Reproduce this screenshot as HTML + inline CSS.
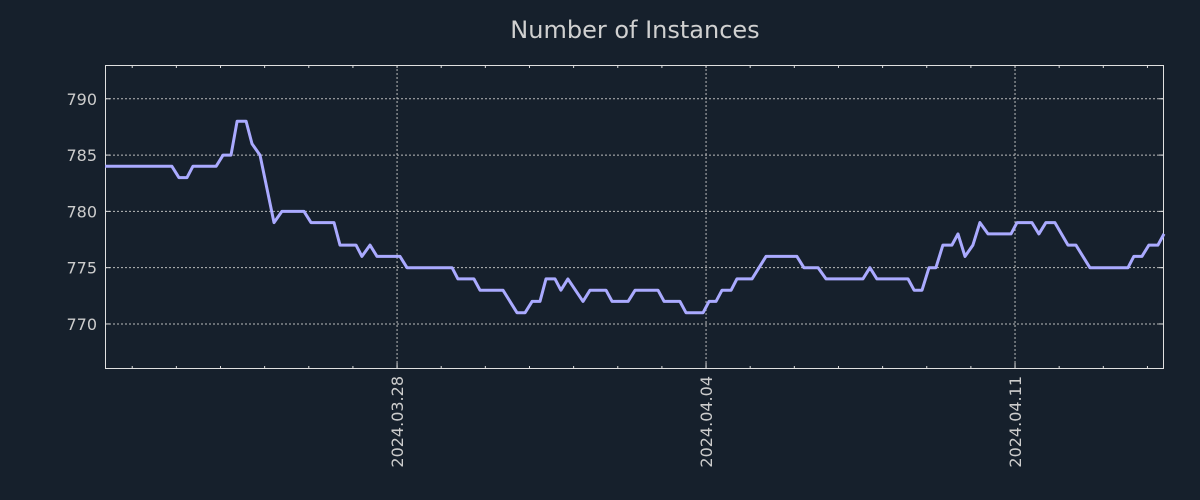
<!DOCTYPE html>
<html><head><meta charset="utf-8"><style>
html,body{margin:0;padding:0;background:#16202c;}
svg{display:block;font-family:"DejaVu Sans","Liberation Sans",sans-serif;}
</style></head><body>
<svg id="chart" width="1200" height="500" viewBox="0 0 1200 500">
<rect width="1200" height="500" fill="#16202c"/>
<text x="635" y="38" text-anchor="middle" font-size="24" fill="#d0d0d0">Number of Instances</text>
<g id="grid"></g><g id="axes"></g><g id="series"></g>
</svg>
<script>
// hours since start of plotted range
const hours = [0,36.4,40.2,44.6,47.8,60.4,64.2,68.5,71.8,76.7,79.9,84.3,91.9,96.2,108.2,112.0,124.5,127.8,136.5,139.7,144.1,147.9,160.4,164.2,188.7,191.9,200.6,203.9,216.4,224.0,228.4,232.2,236.5,239.8,244.7,247.9,251.7,259.9,263.7,272.4,275.7,284.4,288.2,300.7,304.0,312.6,315.9,325.2,328.4,332.2,335.5,340.4,343.6,351.8,355.6,359.4,376.2,380.0,387.7,392.0,412.1,415.9,419.7,436.6,439.9,444.2,448.0,451.8,455.6,460.5,463.8,467.6,471.9,475.7,480.1,492.6,495.9,504.0,507.8,511.6,516.5,523.6,527.9,535.5,556.2,559.4,563.8,567.6,572.5,575.8];
const instances = [784,784,783,783,784,784,785,785,788,788,786,785,779,780,780,779,779,777,777,776,777,776,776,775,775,774,774,773,773,771,771,772,772,774,774,773,774,772,773,773,772,772,773,773,772,772,771,771,772,772,773,773,774,774,775,776,776,775,775,774,774,775,774,774,773,773,775,775,777,777,778,776,777,779,778,778,779,779,778,779,779,777,777,775,775,776,776,777,777,778];
const yTicks = [770,775,780,785,790];
const xTickHours = [158.8,326.8,494.8];
const xTickLabels = ["2024.03.28","2024.04.04","2024.04.11"];
const xMax = 575.8, yMin = 766.0, yMax = 793.0;
const L=105,R=1164,T=65,B=369;
const NS="http://www.w3.org/2000/svg";
const sx=h=>L+(h/xMax)*(R-L);
const sy=v=>B-(v-yMin)/(yMax-yMin)*(B-T);
function mk(tag,attrs,parent){const e=document.createElementNS(NS,tag);for(const k in attrs)e.setAttribute(k,attrs[k]);parent.appendChild(e);return e;}
const grid=document.getElementById('grid'),axes=document.getElementById('axes'),series=document.getElementById('series');
yTicks.forEach(v=>{
  const y=sy(v);
  const g=mk('line',{x1:L,x2:R,y1:y,y2:y,stroke:'#bbbbbb','stroke-width':1,'stroke-dasharray':'2,2'},grid);
  
  
  mk('line',{x1:L,x2:L+5,y1:y,y2:y,stroke:'#dddddd'},axes);
  mk('line',{x1:R-5,x2:R,y1:y,y2:y,stroke:'#dddddd'},axes);
  const t=mk('text',{x:L-8,y:y+6,'text-anchor':'end','font-size':16,fill:'#cccccc'},axes);
  t.textContent=v;
  
  
});
for(let h=xTickHours[0]%24;h<=xMax;h+=24){
  const x=sx(h);
  mk('line',{x1:x,x2:x,y1:B,y2:B-3,stroke:'#dddddd'},axes);
  mk('line',{x1:x,x2:x,y1:T,y2:T+3,stroke:'#dddddd'},axes);
}
xTickHours.forEach((h,i)=>{
  const x=sx(h);
  const g=mk('line',{x1:x,x2:x,y1:T,y2:B,stroke:'#bbbbbb','stroke-width':1,'stroke-dasharray':'2,2'},grid);
  
  
  mk('line',{x1:x,x2:x,y1:B,y2:B-6,stroke:'#dddddd'},axes);
  const t=mk('text',{x:0,y:0,'text-anchor':'end','font-size':16,fill:'#cccccc',transform:`translate(${x+6},${B+7}) rotate(-90)`},axes);
  t.textContent=xTickLabels[i];
  
  
});
const frame=mk('rect',{x:L+0.5,y:T+0.5,width:R-L-1,height:B-T-1,fill:'none',stroke:'#e0e0e0','stroke-width':1},axes);


const pts=hours.map((h,i)=>sx(h).toFixed(1)+','+sy(instances[i]).toFixed(1)).join(' ');
const line=mk('polyline',{points:pts,fill:'none',stroke:'#aaaaff','stroke-width':3,'stroke-linejoin':'round'},series);


</script>
</body></html>
